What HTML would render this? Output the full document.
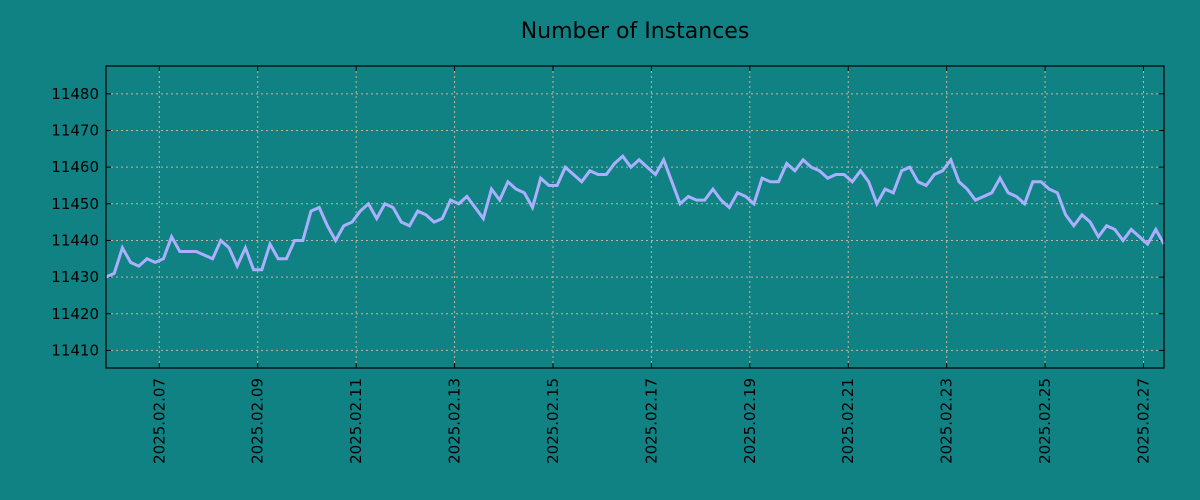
<!DOCTYPE html>
<html><head><meta charset="utf-8"><style>
html,body{margin:0;padding:0;background:#108284;}
svg{display:block;font-family:"DejaVu Sans","Liberation Sans",sans-serif;}
</style></head><body>
<svg id="chart" width="1200" height="500" xmlns="http://www.w3.org/2000/svg">
<rect width="1200" height="500" fill="#108284"/>
<text x="635" y="38" text-anchor="middle" font-size="22" fill="#000">Number of Instances</text>
<g id="grid"></g><g id="axes"></g><g id="series"></g>
<rect x="106" y="66" width="1058" height="302" fill="none" stroke="#000" stroke-width="1.2"/>
</svg>
<script>
const values = [11430,11431,11438,11434,11433,11435,11434,11435,11441,11437,
11437,11437,11436,11435,11440,11438,11433,11438,11432,11432,
11439,11435,11435,11440,11440,11448,11449,11444,11440,11444,
11445,11448,11450,11446,11450,11449,11445,11444,11448,11447,
11445,11446,11451,11450,11452,11449,11446,11454,11451,11456,
11454,11453,11449,11457,11455,11455,11460,11458,11456,11459,
11458,11458,11461,11463,11460,11462,11460,11458,11462,11456,
11450,11452,11451,11451,11454,11451,11449,11453,11452,11450,
11457,11456,11456,11461,11459,11462,11460,11459,11457,11458,
11458,11456,11459,11456,11450,11454,11453,11459,11460,11456,
11455,11458,11459,11462,11456,11454,11451,11452,11453,11457,
11453,11452,11450,11456,11456,11454,11453,11447,11444,11447,
11445,11441,11444,11443,11440,11443,11441,11439,11443,11439];
const yTicks = [11410,11420,11430,11440,11450,11460,11470,11480];
const xTickLabels = ["2025.02.07","2025.02.09","2025.02.11","2025.02.13","2025.02.15","2025.02.17","2025.02.19","2025.02.21","2025.02.23","2025.02.25","2025.02.27"];
const startTime = Date.UTC(2025,1,5,22,0);
const stepMs = 4*3600*1000;

const NS="http://www.w3.org/2000/svg";
const X0=106,X1=1164,Y0=66,Y1=368;
const tMin=startTime, tMax=startTime+(values.length-1)*stepMs;
const yMin=11405.2, yMax=11487.6;
function xs(t){return X0+(t-tMin)/(tMax-tMin)*(X1-X0);}
function ys(v){return Y1-(v-yMin)/(yMax-yMin)*(Y1-Y0);}
function parseLbl(s){const p=s.split('.');return Date.UTC(+p[0],+p[1]-1,+p[2]);}
const grid=document.getElementById('grid'),axes=document.getElementById('axes'),series=document.getElementById('series');
function mk(tag,at,parent){const e=document.createElementNS(NS,tag);for(const k in at)e.setAttribute(k,at[k]);parent.appendChild(e);return e;}

yTicks.forEach(v=>{
  const y=ys(v);
  const g=mk('line',{x1:X0,x2:X1,y1:y,y2:y,stroke:'#c8b49a','stroke-width':1,'stroke-dasharray':'2,3'},grid);
  
  
  const t1=mk('line',{x1:X0,x2:X0+5,y1:y,y2:y,stroke:'#000'},axes);
  
  
  const t2=mk('line',{x1:X1-5,x2:X1,y1:y,y2:y,stroke:'#000'},axes);
  
  
  const tx=mk('text',{x:X0-7,y:y+5,'text-anchor':'end','font-size':15,fill:'#000'},axes);
  tx.textContent=v;
  
  
});
xTickLabels.forEach(s=>{
  const x=xs(parseLbl(s));
  const g=mk('line',{x1:x,x2:x,y1:Y0,y2:Y1,stroke:'#c8b49a','stroke-width':1,'stroke-dasharray':'2,3'},grid);
  
  
  const t1=mk('line',{x1:x,x2:x,y1:Y1-5,y2:Y1,stroke:'#000'},axes);
  
  
  const t2=mk('line',{x1:x,x2:x,y1:Y0,y2:Y0+5,stroke:'#000'},axes);
  
  
  const tx=mk('text',{x:0,y:0,'text-anchor':'end','font-size':15,fill:'#000',transform:`translate(${x+5},${Y1+10}) rotate(-90)`},axes);
  tx.textContent=s;
  
  
});
const pts=values.map((v,i)=>xs(tMin+i*stepMs).toFixed(1)+','+ys(v).toFixed(1)).join(' ');
const line=mk('polyline',{points:pts,fill:'none',stroke:'#aab0ff','stroke-width':3,'stroke-linejoin':'miter'},series);


</script>
</body></html>
